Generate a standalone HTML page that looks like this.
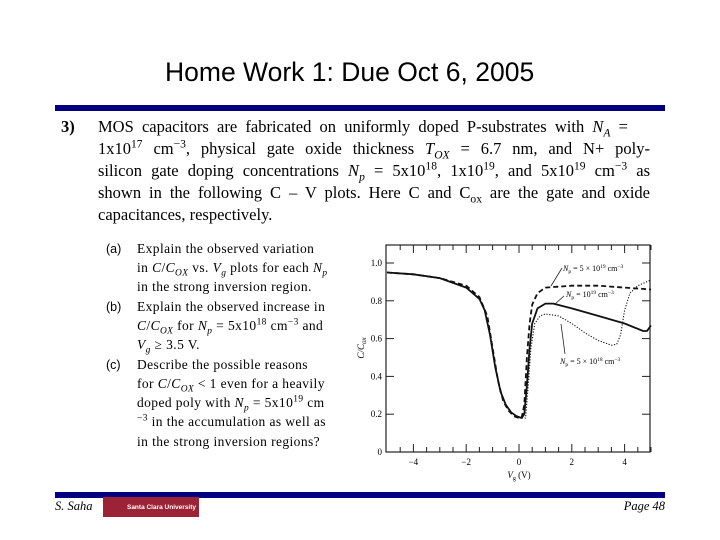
<!DOCTYPE html>
<html><head><meta charset="utf-8">
<style>
body{margin:0;width:720px;height:540px;background:#fff;position:relative;overflow:hidden;font-family:"Liberation Serif",serif;color:#000}
.a{position:absolute;white-space:nowrap}
.bl{position:absolute;left:98px;width:552px;font-size:16.5px;text-align:justify;text-align-last:justify;white-space:nowrap;line-height:20px}
.sl{position:absolute;left:137px;font-size:13.5px;letter-spacing:0.4px;white-space:nowrap;line-height:18px}
.lab{position:absolute;left:106px;font-family:"Liberation Sans",sans-serif;font-size:12.5px;line-height:18px}
sup,sub{font-size:70%;line-height:0}
</style></head><body>
<div class="a" style="left:165px;top:57px;font-family:'Liberation Sans',sans-serif;font-size:26.5px;">Home Work 1: Due Oct 6, 2005</div>
<div class="a" style="left:55px;top:105px;width:610px;height:6px;background:#000080"></div>

<div class="a" style="left:61px;top:117px;font-size:16.5px;font-weight:bold">3)</div>
<div>
<div class="bl" style="top:117px;width:530px">MOS capacitors are fabricated on uniformly doped P-substrates with <i>N<sub>A</sub></i> =</div>
<div class="bl" style="top:139px">1x10<sup>17</sup> cm<sup>−3</sup>, physical gate oxide thickness <i>T<sub>OX</sub></i> = 6.7 nm, and N+ poly-</div>
<div class="bl" style="top:161px">silicon gate doping concentrations <i>N<sub>p</sub></i> = 5x10<sup>18</sup>, 1x10<sup>19</sup>, and 5x10<sup>19</sup> cm<sup>−3</sup> as</div>
<div class="bl" style="top:183px">shown in the following C – V plots. Here C and C<sub>ox</sub> are the gate and oxide</div>
<div class="bl" style="top:205px;text-align-last:left">capacitances, respectively.</div>
</div>

<div>
<div class="lab" style="top:240px">(a)</div>
<div class="sl" style="top:240px">Explain the observed variation</div>
<div class="sl" style="top:259px">in <i>C</i>/<i>C<sub>OX</sub></i> vs. <i>V<sub>g</sub></i> plots for each <i>N<sub>p</sub></i></div>
<div class="sl" style="top:278px">in the strong inversion region.</div>
<div class="lab" style="top:298px">(b)</div>
<div class="sl" style="top:298px">Explain the observed increase in</div>
<div class="sl" style="top:317px"><i>C</i>/<i>C<sub>OX</sub></i> for <i>N<sub>p</sub></i> = 5x10<sup>18</sup> cm<sup>−3</sup> and</div>
<div class="sl" style="top:336px"><i>V<sub>g</sub></i> ≥ 3.5 V.</div>
<div class="lab" style="top:356px">(c)</div>
<div class="sl" style="top:356px">Describe the possible reasons</div>
<div class="sl" style="top:375px">for <i>C</i>/<i>C<sub>OX</sub></i> &lt; 1 even for a heavily</div>
<div class="sl" style="top:394px">doped poly with <i>N<sub>p</sub></i> = 5x10<sup>19</sup> cm</div>
<div class="sl" style="top:413px"><sup>−3</sup> in the accumulation as well as</div>
<div class="sl" style="top:433px">in the strong inversion regions?</div>
</div>

<svg id="chart" style="position:absolute;left:0;top:0" width="720" height="540"></svg>

<div class="a" style="left:55px;top:492px;width:610px;height:6px;background:#000080"></div>
<div class="a" style="left:55px;top:499px;font-style:italic;font-size:12.5px">S. Saha</div>
<div class="a" style="left:103px;top:497px;width:96px;height:20px;background:#9b2335;color:#fff;font-family:'Liberation Sans',sans-serif;font-size:6.5px;font-weight:bold;line-height:22px;text-align:right;padding-right:3px;box-sizing:border-box">Santa Clara University</div>
<div class="a" style="right:55px;top:499px;font-style:italic;font-size:12.5px">Page 48</div>

<script>
const yTicks=[0,0.2,0.4,0.6,0.8,1.0];
const yTickLabels=["0","0.2","0.4","0.6","0.8","1.0"];
const xTicks=[-4,-2,0,2,4];
const xTickLabels=["−4","−2","0","2","4"];
const vDash=[-5,-4,-3,-2,-1.5,-1.2,-1,-0.8,-0.6,-0.4,-0.2,0,0.1,0.2,0.3,0.4,0.5,0.7,1,2,3,4,5];
const cDash=[0.95,0.94,0.92,0.88,0.82,0.72,0.55,0.38,0.27,0.22,0.19,0.18,0.18,0.25,0.5,0.68,0.78,0.84,0.87,0.88,0.88,0.87,0.86];
const vSolid=[-5,-4,-3,-2,-1.5,-1.3,-1.1,-0.9,-0.7,-0.5,-0.3,-0.1,0.1,0.2,0.3,0.4,0.5,0.7,1,1.3,2,3,4,4.7,4.85,5];
const cSolid=[0.95,0.94,0.92,0.87,0.81,0.75,0.62,0.45,0.32,0.25,0.21,0.19,0.18,0.2,0.35,0.55,0.68,0.76,0.785,0.785,0.76,0.72,0.68,0.64,0.64,0.67];
const vDot=[-5,-4,-3,-2,-1.5,-1.3,-1.1,-0.9,-0.7,-0.5,-0.3,-0.1,0.1,0.25,0.35,0.45,0.6,0.8,1,1.5,2,2.5,3,3.5,3.7,3.85,4,4.2,4.5,5];
const cDot=[0.95,0.94,0.92,0.87,0.81,0.75,0.62,0.45,0.32,0.25,0.21,0.19,0.18,0.18,0.35,0.55,0.68,0.72,0.73,0.72,0.68,0.63,0.59,0.565,0.57,0.62,0.75,0.84,0.88,0.91];

const svg=document.getElementById('chart');
const NS='http://www.w3.org/2000/svg';
const X0=386,X1=650,Y0=452,YT=245;
function sx(v){return 519+(v)*26.4;}
function sy(c){return 452-c*189;}
function mk(tag,attrs,parent){const e=document.createElementNS(NS,tag);for(const k in attrs)e.setAttribute(k,attrs[k]);(parent||svg).appendChild(e);return e;}

const frame=mk('rect',{x:X0,y:YT,width:X1-X0,height:Y0-YT,fill:'none',stroke:'#222','stroke-width':1.2});


for(let v=-4.5;v<=5.01;v+=0.5){
  const big=Math.abs(v-Math.round(v/2)*2)<0.01;
  const L=big?8:5;
  const t1=mk('line',{x1:sx(v),x2:sx(v),y1:Y0,y2:Y0-L,stroke:'#222','stroke-width':1});
  
  
  const t2=mk('line',{x1:sx(v),x2:sx(v),y1:YT,y2:YT+L,stroke:'#222','stroke-width':1});
  
  
}
xTicks.forEach((v,i)=>{
  const t=mk('text',{x:sx(v),y:Y0+13,'text-anchor':'middle','font-size':9,'font-family':'Liberation Serif, serif'});
  t.textContent=xTickLabels[i];
  
  
});
yTicks.forEach((c,i)=>{
  if(c>0){
  const a=mk('line',{x1:X0,x2:X0+8,y1:sy(c),y2:sy(c),stroke:'#222'});
  
  
  const b=mk('line',{x1:X1,x2:X1-8,y1:sy(c),y2:sy(c),stroke:'#222'});
  
  
  }
  const t=mk('text',{x:X0-4,y:sy(c)+3,'text-anchor':'end','font-size':9,'font-family':'Liberation Serif, serif'});
  t.textContent=yTickLabels[i];
  
  
});
const yl=mk('text',{x:0,y:0,transform:'translate(364,348) rotate(-90)','text-anchor':'middle','font-size':9,'font-style':'italic','font-family':'Liberation Serif, serif'});
yl.innerHTML='C/C<tspan font-size="7" dy="2">ox</tspan>';


const xl=mk('text',{x:519,y:478,'text-anchor':'middle','font-size':9,'font-family':'Liberation Serif, serif'});
xl.innerHTML='<tspan font-style="italic">V</tspan><tspan font-size="6" dy="2">g</tspan><tspan dy="-2"> (V)</tspan>';



function line(vs,cs,dash,w,name){
  let d='';vs.forEach((v,i)=>{d+=(i?'L':'M')+sx(v).toFixed(1)+','+sy(cs[i]).toFixed(1);});
  const p=mk('path',{d:d,fill:'none',stroke:'#111','stroke-width':w,'stroke-dasharray':dash,'stroke-linejoin':'round'});
  
  
}
line(vDot,cDot,'1.2,1.6',1.1,'series-np-5e18');
line(vSolid,cSolid,'none',1.8,'series-np-1e19');
line(vDash,cDash,'5,3',1.8,'series-np-5e19');

function ann(x,y,html,ax1,ay1,ax2,ay2,name){
  const t=mk('text',{x:x,y:y,'font-size':8,'font-family':'Liberation Serif, serif'});
  t.innerHTML=html;
  
  
  const l=mk('line',{x1:ax1,y1:ay1,x2:ax2,y2:ay2,stroke:'#222','stroke-width':0.8});
  
  
}
ann(563,271,'<tspan font-style="italic">N</tspan><tspan font-size="5.5" dy="2">p</tspan><tspan dy="-2"> = 5 × 10</tspan><tspan font-size="5.5" dy="-3">19</tspan><tspan dy="3"> cm</tspan><tspan font-size="5.5" dy="-3">−3</tspan>',562,268,551,286,'label-np-5e19');
ann(566,297,'<tspan font-style="italic">N</tspan><tspan font-size="5.5" dy="2">p</tspan><tspan dy="-2"> = 10</tspan><tspan font-size="5.5" dy="-3">19</tspan><tspan dy="3"> cm</tspan><tspan font-size="5.5" dy="-3">−3</tspan>',564,296,555,304,'label-np-1e19');
ann(560,364,'<tspan font-style="italic">N</tspan><tspan font-size="5.5" dy="2">p</tspan><tspan dy="-2"> = 5 × 10</tspan><tspan font-size="5.5" dy="-3">18</tspan><tspan dy="3"> cm</tspan><tspan font-size="5.5" dy="-3">−3</tspan>',565,354,561,324,'label-np-5e18');
</script>
</body></html>
